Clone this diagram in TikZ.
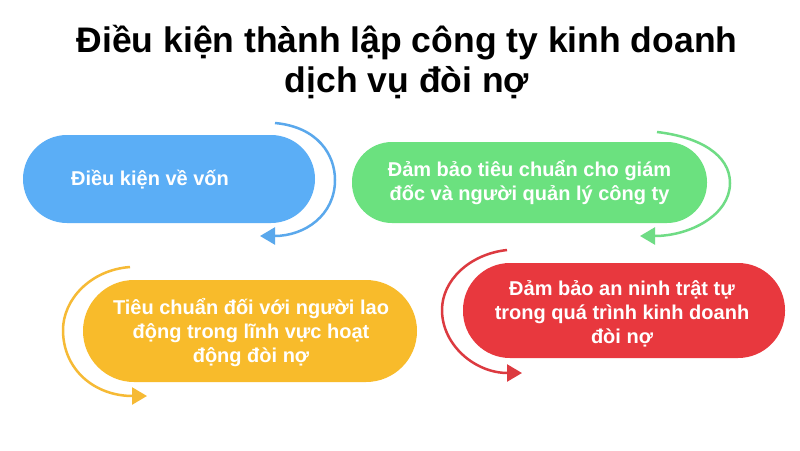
\documentclass[tikz,border=0pt]{standalone}
\usepackage{fontspec}
\setmainfont{Liberation Sans}
\usetikzlibrary{arrows.meta}
\definecolor{cblue}{HTML}{5BAEF6}
\definecolor{cgreen}{HTML}{6BE17F}
\definecolor{cyellow}{HTML}{F8BB2B}
\definecolor{cred}{HTML}{E8383E}
\definecolor{ablue}{HTML}{5AA8EC}
\definecolor{agreen}{HTML}{6FDC85}
\definecolor{ayellow}{HTML}{F6BA35}
\definecolor{ared}{HTML}{DC3A40}
\tikzset{
  pill/.style={draw=none, rounded corners=#1, inner sep=0pt},
  pilltext/.style={text=white, font=\fontsize{20}{24}\selectfont\bfseries, align=center, inner sep=0pt},
  swirl/.style={line width=2.5pt, -{Triangle[length=15pt,width=17pt]}},
}
\begin{document}
\begin{tikzpicture}[x=1pt,y=-1pt]
\useasboundingbox[fill=white] (0,0) rectangle (800,450);
% title
\node[font=\fontsize{35.5}{40}\selectfont\bfseries, align=center, inner sep=0pt] (title) at (407,62)
  {Điều kiện thành lập công ty kinh doanh\\dịch vụ đòi nợ};
% pills
\node[pill=44pt, fill=cblue, minimum width=292pt, minimum height=88pt] (p1) at (169,179) {};
\node[pilltext] (t1) at (150,180) {Điều kiện về vốn};
\node[pill=40pt, fill=cgreen, minimum width=355pt, minimum height=81pt, pilltext] (p2) at (529.5,182.5)
  {Đảm bảo tiêu chuẩn cho giám\\đốc và người quản lý công ty};
\node[pill=51pt, fill=cyellow, minimum width=334pt, minimum height=102pt] (p3) at (250,331) {};
\node[pilltext] (t3) at (251,333)
  {Tiêu chuẩn đối với người lao\\động trong lĩnh vực hoạt\\động đòi nợ};
\node[pill=47pt, fill=cred, minimum width=322pt, minimum height=95pt] (p4) at (624,310.5) {};
\node[pilltext] (t4) at (622,314)
  {Đảm bảo an ninh trật tự\\trong quá trình kinh doanh\\đòi nợ};
% swirl arrows
\coordinate (b0) at (275,123); \coordinate (b1) at (260,236);
\coordinate (g0) at (657,132); \coordinate (g1) at (640,236);
\coordinate (y0) at (130,267); \coordinate (y1) at (147,396);
\coordinate (r0) at (507,250); \coordinate (r1) at (522,373);
\draw[swirl, ablue] (b0) .. controls (318,127) and (335,155) .. (335,180)
  .. controls (335,215) and (305,236) .. (b1);
\draw[swirl, agreen] (g0) .. controls (700,137) and (730,155) .. (730,183)
  .. controls (730,215) and (690,236) .. (g1);
\draw[swirl, ayellow] (y0) .. controls (90,270) and (63,300) .. (63,330)
  .. controls (63,370) and (95,396) .. (y1);
\draw[swirl, ared] (r0) .. controls (470,254) and (442,280) .. (442,310)
  .. controls (442,345) and (475,373) .. (r1);
\end{tikzpicture}
\end{document}
